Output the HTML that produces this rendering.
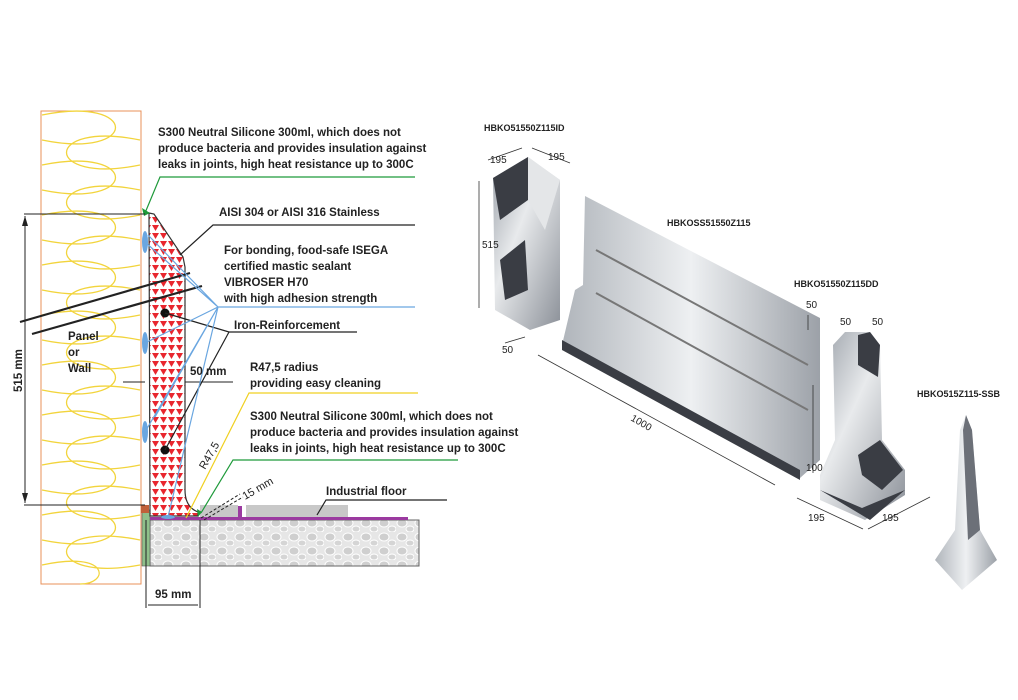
<!DOCTYPE html>
<html><head><meta charset="utf-8"><style>
html,body{margin:0;padding:0;background:#fff}
svg{display:block}
text{font-family:"Liberation Sans",sans-serif;font-weight:bold;fill:#222}
</style></head><body>
<svg width="1018" height="700" viewBox="0 0 1018 700" xmlns="http://www.w3.org/2000/svg">
<defs>
<pattern id="tri" width="8" height="8" patternUnits="userSpaceOnUse">
<rect width="8" height="8" fill="#fff"/><polygon points="0,1 7,1 3.5,7" fill="#e8262e"/>
</pattern>
<pattern id="stone" width="18" height="14" patternUnits="userSpaceOnUse">
<rect width="18" height="14" fill="#e6e6e6"/><ellipse cx="6" cy="5" rx="5" ry="4" fill="#cfcfcf" stroke="#fff"/><ellipse cx="14" cy="11" rx="4" ry="3" fill="#d5d5d5" stroke="#fff"/>
</pattern>
<linearGradient id="met" x1="0" y1="0" x2="1" y2="1">
<stop offset="0" stop-color="#9aa0a8"/><stop offset="0.4" stop-color="#e8eaec"/><stop offset="1" stop-color="#8b9098"/></linearGradient>
<linearGradient id="met2" x1="0" y1="0" x2="1" y2="0">
<stop offset="0" stop-color="#b0b5bb"/><stop offset="0.5" stop-color="#eef0f2"/><stop offset="1" stop-color="#9ca1a8"/></linearGradient>
</defs>

<!-- wall -->
<rect x="41" y="111" width="100" height="473" fill="#fff" stroke="#e8905a" stroke-width="1"/>
<g fill="none" stroke="#f2d43c" stroke-width="1.3">
<path d="M42,115 C140,95 140,160 42,140 M42,165 C140,145 140,210 42,190 M42,215 C140,195 140,260 42,240 M42,265 C140,245 140,310 42,290 M42,315 C140,295 140,360 42,340 M42,365 C140,345 140,410 42,390 M42,415 C140,395 140,460 42,440 M42,465 C140,445 140,510 42,490 M42,515 C140,495 140,560 42,540 M42,565 C110,550 110,584 80,584"/>
<path d="M140,140 C42,120 42,185 140,165 M140,190 C42,170 42,235 140,215 M140,240 C42,220 42,285 140,265 M140,290 C42,270 42,335 140,315 M140,340 C42,320 42,385 140,365 M140,390 C42,370 42,435 140,415 M140,440 C42,420 42,485 140,465 M140,490 C42,470 42,535 140,515 M140,540 C42,520 42,583 140,565"/>
</g>
<!-- floor -->
<rect x="150" y="520" width="269" height="46" fill="url(#stone)" stroke="#666"/>
<rect x="142" y="510" width="8" height="56" fill="#8fc08a" stroke="#555" stroke-width="0.6"/>
<rect x="200" y="505" width="38" height="13" fill="#c8c8c8"/>
<rect x="246" y="505" width="102" height="13" fill="#c8c8c8"/>
<rect x="150" y="517" width="258" height="3" fill="#9b3aa0"/>
<rect x="238" y="506" width="4" height="12" fill="#9b3aa0"/>
<!-- profile -->
<path d="M149,213 L154,214 L183,257 L185,267 L185,490 Q185,507 198,512 L198,516 L150,516 Z" fill="url(#tri)" stroke="#333" stroke-width="1.2"/>
<rect x="141" y="505" width="8" height="8" fill="#c0603a"/>
<polygon points="142,208 150,213 144,216" fill="#1e9a3a"/>
<polygon points="197,509 202,512 198,517" fill="#1e9a3a"/>
<g fill="#6aa6e0"><ellipse cx="145" cy="242" rx="3" ry="11"/><ellipse cx="145" cy="343" rx="3" ry="11"/><ellipse cx="145" cy="432" rx="3" ry="11"/><ellipse cx="168" cy="517" rx="7" ry="2"/></g>
<!-- rods -->
<path d="M20,322 L190,273 M32,334 L202,286" stroke="#222" stroke-width="2.2"/>
<circle cx="165" cy="313" r="4.5" fill="#111"/><circle cx="165" cy="450" r="4.5" fill="#111"/>
<!-- dims -->
<g stroke="#222" stroke-width="1" fill="none">
<path d="M24,214 L145,214 M24,505 L145,505 M25,216 L25,503"/>
<path d="M146,520 L146,608 M200,520 L200,608 M148,605 L198,605"/>
<path d="M123,382 L145,382 M185,382 L233,382"/>
<path d="M201,518 L240,494 M204,520 L243,497" stroke-dasharray="3,2"/>
</g>
<polygon points="25,216 22,226 28,226" fill="#222"/><polygon points="25,503 22,493 28,493" fill="#222"/>
<!-- leader lines -->
<g fill="none" stroke-width="1.2">
<path d="M145,213 L160,177 L415,177" stroke="#1e9a3a"/>
<path d="M201,513 L233,460 L458,460" stroke="#1e9a3a"/>
<path d="M180,255 L213,225 L415,225" stroke="#222"/>
<path d="M165,313 L229,332 L357,332 M229,332 L165,450" stroke="#222"/>
<path d="M186,518 L249,393 L418,393" stroke="#f0d020"/>
<path d="M317,515 L326,500 L447,500" stroke="#222"/>
<path d="M145,242 L218,307 L415,307 M218,307 L145,343 M218,307 L145,432 M218,307 L168,517 M218,307 L148,235 M218,307 L155,417" stroke="#6aa6e0"/>
</g>
<g font-size="11.5">
<text x="158" y="136">S300 Neutral Silicone 300ml, which does not</text>
<text x="158" y="152">produce bacteria and provides insulation against</text>
<text x="158" y="168">leaks in joints, high heat resistance up to 300C</text>
<text x="219" y="216">AISI 304 or AISI 316 Stainless</text>
<text x="224" y="254">For bonding, food-safe ISEGA</text>
<text x="224" y="270">certified mastic sealant</text>
<text x="224" y="286">VIBROSER H70</text>
<text x="224" y="302">with high adhesion strength</text>
<text x="234" y="329">Iron-Reinforcement</text>
<text x="250" y="371">R47,5 radius</text>
<text x="250" y="387">providing easy cleaning</text>
<text x="250" y="420">S300 Neutral Silicone 300ml, which does not</text>
<text x="250" y="436">produce bacteria and provides insulation against</text>
<text x="250" y="452">leaks in joints, high heat resistance up to 300C</text>
<text x="326" y="495">Industrial floor</text>
<text x="68" y="340">Panel</text><text x="68" y="356">or</text><text x="68" y="372">Wall</text>
<text x="190" y="375">50 mm</text>
<text x="155" y="598">95 mm</text>
<text x="0" y="0" transform="translate(22,392) rotate(-90)">515 mm</text>
</g>
<g font-size="11" font-weight="normal">
<text x="0" y="0" transform="translate(205,470) rotate(-60)" style="font-weight:normal">R47,5</text>
<text x="0" y="0" transform="translate(245,500) rotate(-30)" style="font-weight:normal">15 mm</text>
</g>

<!-- right products -->
<g font-size="9">
<text x="484" y="131">HBKO51550Z115ID</text>
<text x="667" y="226">HBKOSS51550Z115</text>
<text x="794" y="287">HBKO51550Z115DD</text>
<text x="917" y="397">HBKO515Z115-SSB</text>
</g>
<!-- ID piece -->
<polygon points="493,178 528,157 560,180 560,320 530,330 495,310" fill="url(#met)"/>
<polygon points="493,178 528,157 528,200 500,220" fill="#3a3d44"/>
<polygon points="500,260 525,240 528,290 505,300" fill="#3a3d44"/>
<polygon points="528,157 560,180 545,230 528,200" fill="#e4e6e8"/>
<!-- long panel -->
<polygon points="585,196 820,318 820,460 800,478 562,345 575,290 583,285" fill="url(#met2)"/>
<polygon points="562,340 800,470 800,480 562,350" fill="#3a3d44"/>
<path d="M596,250 L808,365 M596,293 L808,410" stroke="#777" stroke-width="2"/>
<!-- DD piece -->
<polygon points="833,345 845,332 870,332 880,345 882,440 905,470 905,495 865,520 820,500 820,475 835,440" fill="url(#met)"/>
<polygon points="858,335 870,332 880,345 878,377 858,365" fill="#3a3d44"/>
<polygon points="858,455 880,440 903,470 882,490 862,475" fill="#3a3d44"/>
<polygon points="820,490 862,508 905,490 870,520" fill="#3a3d44"/>
<!-- SSB -->
<polygon points="966,415 960,430 955,530 935,560 962,590 997,560 980,530 972,430" fill="url(#met2)"/>
<polygon points="966,415 972,430 980,530 968,540 963,430" fill="#6c7078"/>
<g stroke="#333" stroke-width="0.8" fill="none">
<path d="M479,181 L479,308 M488,160 L522,148 M532,148 L570,163 M505,343 L525,337"/>
<path d="M538,355 L775,485 M797,498 L863,529 M868,529 L930,497 M813,385 L813,473 M808,315 L808,330"/>
</g>
<g font-size="10" font-weight="normal">
<text x="482" y="248" style="font-weight:normal">515</text>
<text x="490" y="163" style="font-weight:normal">195</text><text x="548" y="160" style="font-weight:normal">195</text>
<text x="502" y="353" style="font-weight:normal">50</text>
<text x="0" y="0" transform="translate(630,420) rotate(30)" style="font-weight:normal">1000</text>
<text x="806" y="308" style="font-weight:normal">50</text>
<text x="840" y="325" style="font-weight:normal">50</text><text x="872" y="325" style="font-weight:normal">50</text>
<text x="806" y="471" style="font-weight:normal">100</text>
<text x="808" y="521" style="font-weight:normal">195</text><text x="882" y="521" style="font-weight:normal">195</text>
</g>
</svg>
</body></html>
